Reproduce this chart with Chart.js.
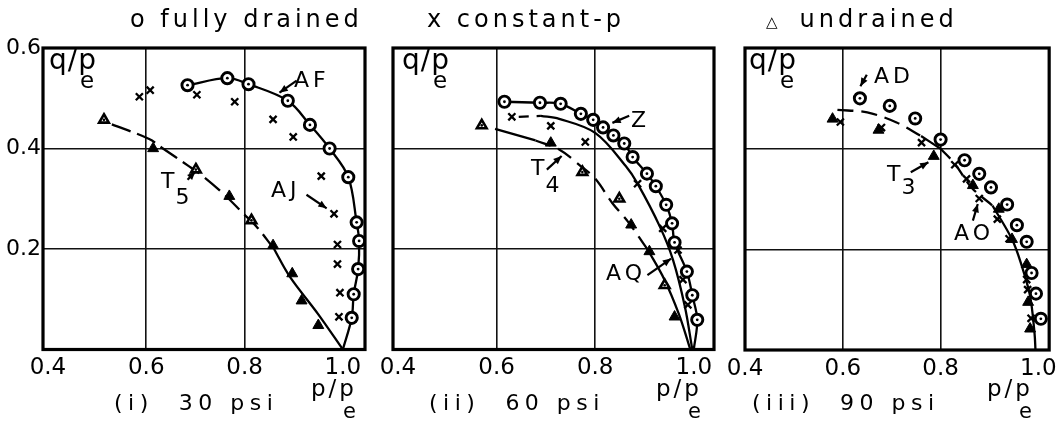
<!DOCTYPE html>
<html><head><meta charset="utf-8">
<script src="https://cdn.jsdelivr.net/npm/chart.js@4.4.0/dist/chart.umd.min.js"></script>
<style>
html,body{margin:0;padding:0;background:#fff}
body{width:1062px;height:428px;overflow:hidden;position:relative;font-family:"DejaVu Sans",sans-serif;color:#000}
canvas{position:absolute;top:0}
.t{position:absolute;white-space:pre;line-height:1}
.ttl{font-size:24px;letter-spacing:4px;top:7px}
.cap{font-size:22px;letter-spacing:5.5px;top:392px}
.ax{font-size:23px;letter-spacing:3px;top:377px}
.ax span{font-size:21px;position:relative;top:22px;left:-14px;letter-spacing:0}
.ql{font-size:28px;letter-spacing:1px;top:46px}
.ql span{font-size:23px;position:relative;top:19px;left:-17px;letter-spacing:0}
.an{font-size:22px;letter-spacing:4px}
.an span{position:relative;left:-3px}
</style></head><body>
<canvas id="c1" width="380" height="428" style="left:0px"></canvas>
<canvas id="c2" width="380" height="428" style="left:350px"></canvas>
<canvas id="c3" width="360" height="428" style="left:702px"></canvas>

<div class="t ttl" style="left:130px">o fully drained</div>
<div class="t ttl" style="left:427px">x constant-p</div>
<div class="t ttl" style="left:766px"><span style="font-size:15px;letter-spacing:22px">△</span>undrained</div>

<div class="t ql" style="left:49px">q/p<span>e</span></div>
<div class="t ql" style="left:402px">q/p<span>e</span></div>
<div class="t ql" style="left:749px">q/p<span>e</span></div>

<div class="t cap" style="left:114px">(i)  30 psi</div>
<div class="t cap" style="left:429px">(ii)  60 psi</div>
<div class="t cap" style="left:752px">(iii)  90 psi</div>

<div class="t ax" style="left:311px">p/p<span>e</span></div>
<div class="t ax" style="left:656px">p/p<span>e</span></div>
<div class="t ax" style="left:987px">p/p<span>e</span></div>

<div class="t an" style="left:294px;top:69px">AF</div>
<div class="t an" style="left:271px;top:179px">AJ</div>
<div class="t an" style="left:161px;top:170px">T<span style="top:16px">5</span></div>
<div class="t an" style="left:631px;top:109px">Z</div>
<div class="t an" style="left:531px;top:157px">T<span style="top:17px">4</span></div>
<div class="t an" style="left:606px;top:262px">AQ</div>
<div class="t an" style="left:874px;top:65px">AD</div>
<div class="t an" style="left:887px;top:163px">T<span style="top:13px">3</span></div>
<div class="t an" style="left:954px;top:222px">AO</div>

<script>
// ---- axis ticks ----
const xTickValues = [0.4, 0.6, 0.8, 1.0];
const yTickValues = [0, 0.2, 0.4, 0.6];
const xGridValues = [0.6, 0.8];
const yGridValues = [0.2, 0.4];

// ---- (i) 30 psi ----
const drained30 = [[0.684,0.526],[0.765,0.540],[0.808,0.528],[0.888,0.495],[0.933,0.447],[0.973,0.400],[1.011,0.343],[1.028,0.253],[1.033,0.216],[1.031,0.160],[1.022,0.110],[1.018,0.063]];
const constP30 = [[0.586,0.503],[0.608,0.516],[0.703,0.507],[0.780,0.493],[0.858,0.458],[0.899,0.423],[0.956,0.345],[0.982,0.270],[0.989,0.209],[0.989,0.170],[0.994,0.113],[0.992,0.065]];
const undrainedFilled30 = [[0.614,0.400],[0.769,0.305],[0.858,0.207],[0.897,0.151],[0.916,0.097],[0.950,0.048]];
const undrainedOpen30 = [[0.514,0.457],[0.701,0.358],[0.814,0.257]];
const curveAF30 = [[0.684,0.526],[0.765,0.540],[0.808,0.528],[0.888,0.495],[0.933,0.447],[0.973,0.400],[1.011,0.343],[1.028,0.253],[1.033,0.216],[1.031,0.160],[1.022,0.110],[1.018,0.063],[1.000,0.000]];
const curveT5dash30 = [[0.530,0.448],[0.606,0.419],[0.634,0.400],[0.685,0.366],[0.715,0.345],[0.759,0.308],[0.797,0.271],[0.824,0.245],[0.860,0.200]];
const curveT5solid30 = [[0.860,0.200],[0.892,0.145],[0.950,0.070],[1.000,0.000]];
const arrows30 = [{from:[0.906,0.535],to:[0.871,0.511]},{from:[0.926,0.308],to:[0.967,0.281]},{from:[0.684,0.338],to:[0.700,0.354]}];

// ---- (ii) 60 psi ----
const drained60 = [[0.616,0.493],[0.688,0.491],[0.730,0.489],[0.771,0.469],[0.796,0.457],[0.816,0.442],[0.837,0.426],[0.859,0.410],[0.876,0.383],[0.905,0.350],[0.923,0.325],[0.944,0.288],[0.956,0.251],[0.961,0.213],[0.986,0.155],[0.997,0.108],[1.007,0.059]];
const constP60 = [[0.631,0.463],[0.710,0.445],[0.780,0.413],[0.886,0.330],[0.937,0.241],[0.968,0.198],[0.978,0.139],[0.988,0.089]];
const undrainedFilled60 = [[0.710,0.411],[0.873,0.248],[0.910,0.195],[0.961,0.065]];
const undrainedOpen60 = [[0.570,0.446],[0.774,0.353],[0.849,0.300],[0.941,0.128]];
const curveDrained60 = [[0.616,0.493],[0.688,0.491],[0.730,0.489],[0.771,0.469],[0.796,0.457],[0.816,0.442],[0.837,0.426],[0.859,0.410],[0.876,0.383],[0.905,0.350],[0.923,0.325],[0.944,0.288],[0.956,0.251],[0.961,0.213],[0.986,0.155],[0.997,0.108],[1.007,0.059],[1.000,0.000]];
const curveZdash60 = [[0.645,0.463],[0.690,0.465]];
const curveZsolid60 = [[0.690,0.465],[0.727,0.459],[0.800,0.431],[0.862,0.365],[0.886,0.330],[0.931,0.245],[0.958,0.178],[0.982,0.085],[0.997,0.000]];
const curveT4solid60 = [[0.597,0.439],[0.679,0.416]];
const curveT4dash60 = [[0.679,0.416],[0.727,0.398],[0.767,0.368],[0.800,0.340],[0.835,0.291],[0.866,0.255],[0.907,0.198]];
const curveT4end60 = [[0.907,0.198],[0.940,0.140],[0.970,0.070],[0.993,0.000]];
const arrows60 = [{from:[0.869,0.465],to:[0.835,0.451]},{from:[0.702,0.358],to:[0.732,0.385]},{from:[0.906,0.148],to:[0.954,0.181]}];

// ---- (iii) 90 psi ----
const drained90 = [[0.635,0.500],[0.696,0.485],[0.748,0.460],[0.800,0.418],[0.849,0.377],[0.879,0.350],[0.903,0.323],[0.936,0.289],[0.956,0.248],[0.976,0.215],[0.986,0.153],[0.995,0.112],[1.005,0.062]];
const constP90 = [[0.595,0.453],[0.679,0.442],[0.761,0.412],[0.829,0.368],[0.853,0.340],[0.879,0.301],[0.916,0.260],[0.940,0.221],[0.976,0.140],[0.978,0.120],[0.985,0.063]];
const undrainedFilled90 = [[0.579,0.459],[0.673,0.437],[0.786,0.385],[0.866,0.327],[0.919,0.280],[0.946,0.220],[0.976,0.170],[0.979,0.095],[0.983,0.042]];
const curveDash90 = [[0.589,0.477],[0.650,0.472],[0.710,0.452],[0.760,0.425]];
const curveSolidA90 = [[0.760,0.425],[0.800,0.400]];
const curveDashB90 = [[0.800,0.400],[0.829,0.370],[0.863,0.323],[0.906,0.287]];
const curveSolidB90 = [[0.906,0.287],[0.946,0.220],[0.966,0.167],[0.983,0.107],[0.992,0.034],[0.994,0.000]];
const arrows90 = [{from:[0.649,0.547],to:[0.636,0.524]},{from:[0.739,0.353],to:[0.775,0.373]},{from:[0.866,0.257],to:[0.876,0.290]}];

// ---- helpers ----
const pts = a => a.map(([x,y]) => ({x, y}));
const near = (v, list) => list.some(g => Math.abs(g - v) < 1e-6);

function circles(a){
  return [
    {data:pts(a), showLine:false, order:1, pointStyle:'circle', pointRadius:5.6, pointBorderWidth:2.9, pointBorderColor:'#000', pointBackgroundColor:'#fff'},
    {data:pts(a), showLine:false, order:0, pointStyle:'circle', pointRadius:1.4, pointBorderWidth:0, pointBackgroundColor:'#000'}
  ];
}
function crosses(a){
  return [{data:pts(a), showLine:false, order:1, pointStyle:'crossRot', pointRadius:5, pointBorderWidth:2.3, pointBorderColor:'#000'}];
}
function triFilled(a){
  return [{data:pts(a), showLine:false, order:1, pointStyle:'triangle', pointRadius:6.3, pointBorderWidth:1, pointBorderColor:'#000', pointBackgroundColor:'#000'}];
}
function triOpen(a){
  return [
    {data:pts(a), showLine:false, order:1, pointStyle:'triangle', pointRadius:5.6, pointBorderWidth:2.6, pointBorderColor:'#000', pointBackgroundColor:'#fff'},
    {data:pts(a), showLine:false, order:0, pointStyle:'circle', pointRadius:1.3, pointBorderWidth:0, pointBackgroundColor:'#000'}
  ];
}
function curve(a, dash){
  return {data:pts(a), showLine:true, order:5, pointRadius:0, borderColor:'#000', borderWidth:2.3, borderDash:dash || [], tension:0.35, fill:false};
}

const framePlugin = {
  id:'frame',
  afterDraw(chart){
    const {ctx, chartArea:c} = chart;
    ctx.save(); ctx.strokeStyle = '#000'; ctx.lineWidth = 3.2;
    ctx.strokeRect(c.left, c.top, c.right - c.left, c.bottom - c.top);
    ctx.restore();
  }
};
const arrowPlugin = {
  id:'arrows',
  afterDatasetsDraw(chart, args, opts){
    const {ctx} = chart, sx = chart.scales.x, sy = chart.scales.y;
    (opts.list || []).forEach(a => {
      const x1 = sx.getPixelForValue(a.from[0]), y1 = sy.getPixelForValue(a.from[1]);
      const x2 = sx.getPixelForValue(a.to[0]), y2 = sy.getPixelForValue(a.to[1]);
      ctx.save(); ctx.strokeStyle = '#000'; ctx.fillStyle = '#000'; ctx.lineWidth = 2.2;
      ctx.beginPath(); ctx.moveTo(x1, y1); ctx.lineTo(x2, y2); ctx.stroke();
      const ang = Math.atan2(y2 - y1, x2 - x1), L = 9;
      ctx.beginPath(); ctx.moveTo(x2, y2);
      ctx.lineTo(x2 - L*Math.cos(ang - 0.4), y2 - L*Math.sin(ang - 0.4));
      ctx.lineTo(x2 - L*Math.cos(ang + 0.4), y2 - L*Math.sin(ang + 0.4));
      ctx.closePath(); ctx.fill();
      ctx.restore();
    });
  }
};

function makeChart(id, datasets, xmin, xmax, showY, padRight, padBottom, arrows){
  return new Chart(document.getElementById(id), {
    type:'scatter',
    data:{datasets},
    plugins:[framePlugin, arrowPlugin],
    options:{
      responsive:false, animation:false, events:[],
      layout:{padding:{left:0, top:48, right:padRight, bottom:padBottom}},
      plugins:{legend:{display:false}, tooltip:{enabled:false}, arrows:{list:arrows}},
      scales:{
        x:{type:'linear', min:xmin, max:xmax,
          afterBuildTicks:s => { s.ticks = xTickValues.map(v => ({value:v})); },
          afterFit:s => { s.height = 30; },
          ticks:{color:'#000', padding:5, font:{family:'DejaVu Sans', size:23}, callback:v => Number(v).toFixed(1)},
          grid:{drawTicks:false, lineWidth:1.6, color:c => (c.tick && near(c.tick.value, xGridValues)) ? '#111' : 'rgba(0,0,0,0)'},
          border:{display:false}},
        y:{type:'linear', min:0, max:0.6,
          afterBuildTicks:s => { s.ticks = yTickValues.map(v => ({value:v})); },
          afterFit:s => { s.width = 43; },
          ticks:{display:showY, color:'#000', padding:2, font:{family:'DejaVu Sans', size:22}, callback:v => (Number(v) === 0 ? '' : Number(v).toFixed(1))},
          grid:{drawTicks:false, lineWidth:1.6, color:c => (c.tick && near(c.tick.value, yGridValues)) ? '#111' : 'rgba(0,0,0,0)'},
          border:{display:false}}
      }
    }
  });
}

makeChart('c1', [
  ...circles(drained30), ...crosses(constP30), ...triFilled(undrainedFilled30), ...triOpen(undrainedOpen30),
  curve(curveAF30), curve(curveT5dash30, [20,7]), curve(curveT5solid30)
], 0.39, 1.045, true, 15, 48.5, arrows30);

makeChart('c2', [
  ...circles(drained60), ...crosses(constP60), ...triFilled(undrainedFilled60), ...triOpen(undrainedOpen60),
  curve(curveDrained60), curve(curveZdash60, [10,8]), curve(curveZsolid60),
  curve(curveT4solid60), curve(curveT4dash60, [16,8]), curve(curveT4end60)
], 0.39, 1.041, false, 16, 48.5, arrows60);

makeChart('c3', [
  ...circles(drained90), ...crosses(constP90), ...triFilled(undrainedFilled90),
  curve(curveDash90, [16,8]), curve(curveSolidA90), curve(curveDashB90, [14,7]), curve(curveSolidB90)
], 0.40, 1.022, false, 6, 48, arrows90);
</script>
</body></html>
